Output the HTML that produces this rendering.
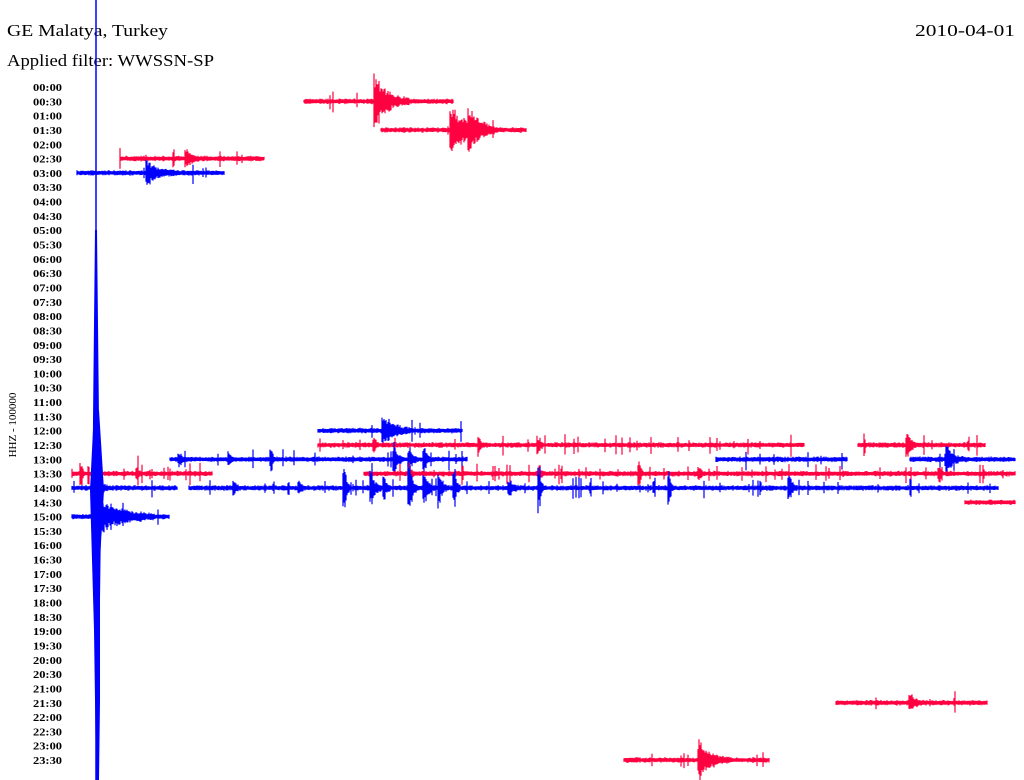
<!DOCTYPE html>
<html><head><meta charset="utf-8"><style>
html,body{margin:0;padding:0;background:#fff;width:1024px;height:780px;overflow:hidden}
svg{display:block}
</style></head><body>
<svg id="s" width="1024" height="780" xmlns="http://www.w3.org/2000/svg">
<rect width="1024" height="780" fill="#fff"/>
<text x="7" y="36" font-family="Liberation Serif, serif" font-size="17" textLength="161" lengthAdjust="spacingAndGlyphs" fill="#000">GE Malatya, Turkey</text>
<text x="7" y="66" font-family="Liberation Serif, serif" font-size="17" textLength="207" lengthAdjust="spacingAndGlyphs" fill="#000">Applied filter: WWSSN-SP</text>
<text x="915" y="36" font-family="Liberation Serif, serif" font-size="17" textLength="100" lengthAdjust="spacingAndGlyphs" fill="#000">2010-04-01</text>
<text transform="translate(16,425) rotate(-90)" text-anchor="middle" font-family="Liberation Serif, serif" font-size="11" fill="#000">HHZ - 100000</text>
<g id="lab" font-family="Liberation Serif, serif" font-size="10.5" font-weight="bold" fill="#000"></g>
<g id="tr"></g>
</svg>
<script>
var lab=document.getElementById('lab'),tr=document.getElementById('tr'),NS='http://www.w3.org/2000/svg';
function Y(i){return 87+i*14.32;}
for(var i=0;i<48;i++){var h=Math.floor(i/2),m=i%2?'30':'00';var t=document.createElementNS(NS,'text');t.setAttribute('x',33);t.setAttribute('y',Y(i)+4);t.setAttribute('textLength','29');t.setAttribute('lengthAdjust','spacingAndGlyphs');t.textContent=(h<10?'0':'')+h+':'+m;lab.appendChild(t);}
var seed=7;function r(){seed=(seed*16807)%2147483647;return seed/2147483647;}
var R='#ff0040',B='#0000ff';
function trace(c,row,x0,x1,ev,spk){
 var y=Y(row),d='';
 for(var x=x0;x<=x1;x++){
  var a=1.6+r()*0.9;
  for(var k=0;k<ev.length;k++){var e=ev[k],dx=x-e[0];
   if(dx>=-2&&dx<e[2]){a+=e[1]*Math.exp(-Math.max(dx,0)/(e[2]/3))*(0.6+0.4*r());}}
  if(spk&&r()<spk)a+=2+r()*6;
  d+='M'+x+' '+(y-a*(0.7+0.5*r())).toFixed(1)+'V'+(y+a*(0.7+0.5*r())).toFixed(1);
 }
 var p=document.createElementNS(NS,'path');p.setAttribute('d',d);p.setAttribute('stroke',c);p.setAttribute('stroke-width','1.2');tr.appendChild(p);
 var l=document.createElementNS(NS,'path');l.setAttribute('d','M'+x0+' '+y+'H'+x1);l.setAttribute('stroke',c);l.setAttribute('stroke-width','3');tr.appendChild(l);
}
trace(R,1,304,453,[[376,24,34]],0.01);
trace(R,3,381,526,[[452,20,45],[470,16,25]],0.01);
trace(R,5,120,264,[[187,8,12]],0.02);
trace(B,6,77,224,[[148,11,28]],0.01);
trace(B,24,318,462,[[384,15,28]],0.02);
trace(R,25,318,804,[[540,6,4],[375,5,4],[480,5,4]],0.06);
trace(R,25,858,985,[[908,10,10]],0.06);
trace(B,26,170,467,[[180,5,6],[230,5,4],[272,10,3],[395,14,8],[410,10,8],[425,12,6]],0.05);
trace(B,26,716,847,[],0.03);
trace(B,26,910,1015,[[948,11,16]],0.03);
trace(R,27,72,212,[[82,10,3],[138,6,3]],0.05);
trace(R,27,364,1015,[[410,8,4],[540,6,4],[640,10,4],[700,6,4],[940,8,4]],0.07);
trace(R,29,965,1015,[],0.01);
trace(B,28,72,177,[[98,12,10]],0.05);
trace(B,28,189,998,[[235,6,4],[300,6,5],[345,22,6],[372,15,10],[385,10,6],[410,22,8],[425,15,10],[440,15,8],[455,15,6],[540,20,4],[670,14,4],[790,10,8],[510,6,10]],0.06);
trace(B,30,72,169,[[96,20,60]],0.02);
trace(R,43,836,987,[[911,7,12]],0.02);
trace(R,47,624,769,[[700,18,30]],0.02);
var v=document.createElementNS(NS,'path');v.setAttribute('d','M96 0V780');v.setAttribute('stroke',B);v.setAttribute('stroke-width','1.5');tr.appendChild(v);
var big=document.createElementNS(NS,'path');big.setAttribute('d','M95 230L93 420L92 560L94 630L95 700L96 780L99 780L100 700L100 600L101 520L99 420L97 230Z');big.setAttribute('fill',B);tr.appendChild(big);
var big2=document.createElementNS(NS,'path');big2.setAttribute('d','M94 410L90 490L92 560L100 560L104 490L99 410Z');big2.setAttribute('fill',B);tr.appendChild(big2);
</script>
</body></html>
